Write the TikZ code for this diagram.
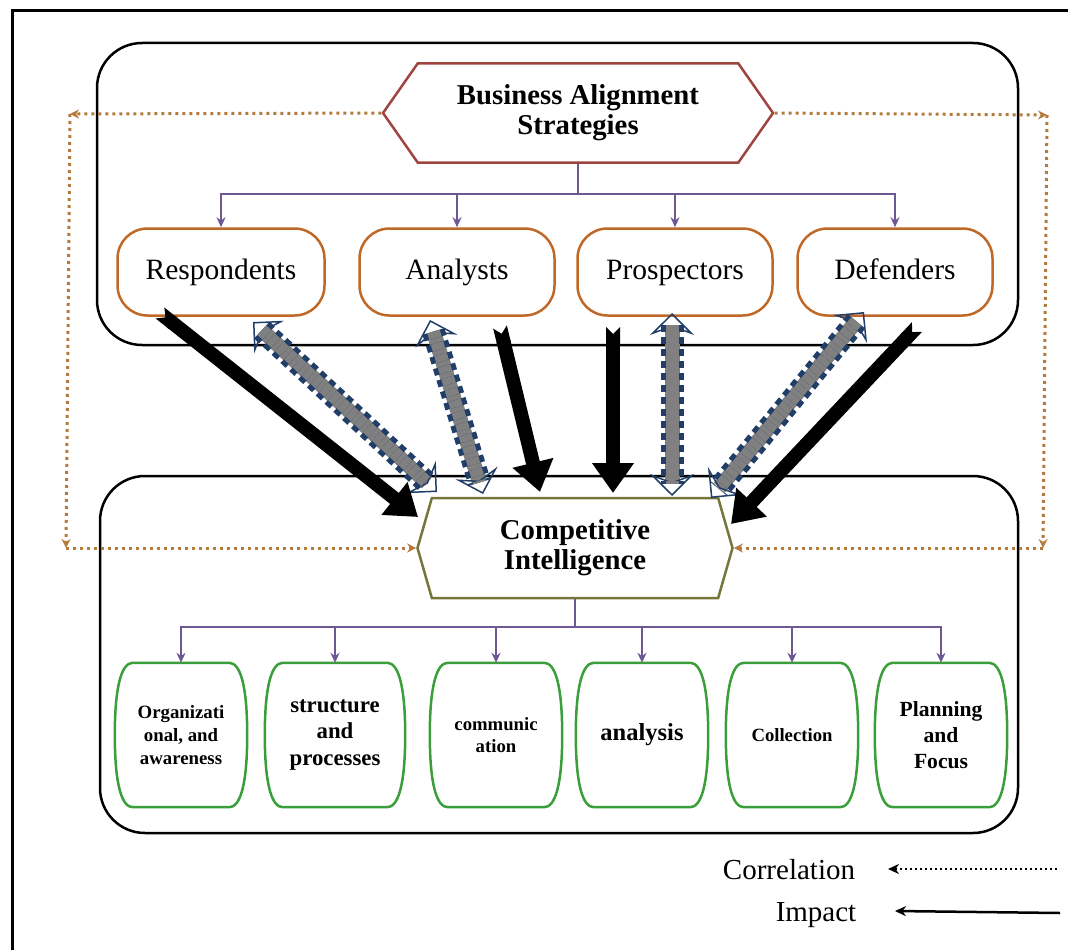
\documentclass[tikz,border=0pt]{standalone}
\usepackage{fontspec}
\setmainfont{Liberation Serif}
\usetikzlibrary{arrows.meta}
\usetikzlibrary{shapes.symbols}
\usetikzlibrary{calc}

\definecolor{basred}{RGB}{160,68,64}
\definecolor{stratorange}{RGB}{192,104,40}
\definecolor{linkpurple}{RGB}{110,88,148}
\definecolor{ciolive}{RGB}{118,118,60}
\definecolor{elemgreen}{RGB}{58,158,58}
\definecolor{corrbrown}{RGB}{180,122,62}
\definecolor{dashblue}{RGB}{32,62,104}

\begin{document}
\begin{tikzpicture}[x=1pt,y=-1pt,
		hexnode/.style={signal, signal to=west and east, draw, line width=2.5pt, align=center,
			inner sep=0pt, font=\fontsize{28.75}{30}\selectfont\bfseries},
		stratnode/.style={rectangle, rounded corners=30pt, draw=stratorange, line width=2.5pt,
			minimum width=195pt, minimum height=87pt, text height=20pt, text depth=6pt,
			font=\fontsize{29.5}{32}\selectfont},
		elemnode/.style={rectangle, minimum width=132pt, minimum height=144pt, align=center, inner sep=0pt},
		barrel/.style={draw=elemgreen, line width=2.5pt},
		container/.style={draw, line width=2.5pt, rounded corners=45pt},
		link/.style={draw=linkpurple, line width=1.8pt, -{Stealth[length=10pt,width=9pt]}},
		impact/.style={line width=14pt, {Triangle Cap[reversed]}-{Triangle[length=30pt,width=40pt]}},
		corrband/.style={line width=15pt, draw=gray,
			{Stealth[open,color=dashblue,line width=1.5pt,length=22pt,width=44pt,inset=8pt]}-{Stealth[open,color=dashblue,line width=1.5pt,length=22pt,width=44pt,inset=8pt]}},
		corredge/.style={draw=dashblue, line width=5pt, double=gray, double distance=13pt,
			dash pattern=on 7pt off 5pt, shorten <=12pt, shorten >=12pt},
		corr/.style={draw=corrbrown, line width=3pt, dash pattern=on 3pt off 4pt, -{Stealth[length=9pt,width=9pt]}},
		]
	\useasboundingbox (0,0) rectangle (1068,950);

	% Frame and containers
	\draw[line width=3pt] (12,950) -- (12,11) -- (1068,11);
	\draw[container] (97,43) rectangle (1018,345);
	\draw[container] (100,476) rectangle (1018,833);

	% Nodes
	\node[hexnode, draw=basred, signal pointer angle=110, minimum width=390pt, minimum height=99pt]
		(bas) at (578,113) {Business Alignment\\Strategies};
	\node[hexnode, draw=ciolive, signal pointer angle=148, minimum width=315pt, minimum height=100pt]
		(ci) at (575,548) {Competitive\\Intelligence};

	\node[stratnode, minimum width=207pt] (resp) at (221,272) {Respondents};
	\node[stratnode] (anal) at (457,272) {Analysts};
	\node[stratnode] (pros) at (675,272) {Prospectors};
	\node[stratnode] (defe) at (895,272) {Defenders};

	\node[elemnode, font=\fontsize{18.8}{23}\selectfont\bfseries] (org) at (181,735) {Organizati\\onal, and\\awareness};
	\node[elemnode, minimum width=140pt, font=\fontsize{22.8}{26}\selectfont\bfseries] (str) at (335,735) {structure\\and\\processes};
	\node[elemnode, font=\fontsize{18.7}{22}\selectfont\bfseries] (com) at (496,735) {communic\\ation};
	\node[elemnode, font=\fontsize{24.5}{26}\selectfont\bfseries] (ana) at (642,735) {analysis};
	\node[elemnode, font=\fontsize{18.7}{22}\selectfont\bfseries] (col) at (792,735) {Collection};
	\node[elemnode, font=\fontsize{21.6}{26}\selectfont\bfseries] (pla) at (941,735) {Planning\\and\\Focus};

	% Barrels
	\foreach \n in {org,str,com,ana,col,pla}
		\draw[barrel] ($(\n.north west)+(18,0)$) -- ($(\n.north east)+(-18,0)$)
			.. controls ($(\n.north east)+(-7,0)$) and ($(\n.east)+(0,-50)$) .. (\n.east)
			.. controls ($(\n.east)+(0,50)$) and ($(\n.south east)+(-7,0)$) .. ($(\n.south east)+(-18,0)$)
			-- ($(\n.south west)+(18,0)$)
			.. controls ($(\n.south west)+(7,0)$) and ($(\n.west)+(0,50)$) .. (\n.west)
			.. controls ($(\n.west)+(0,-50)$) and ($(\n.north west)+(7,0)$) .. cycle;

	% Tree links
	\foreach \n in {resp,anal,pros,defe}
		\draw[link] (bas.south) -- ++(0,30) -| (\n.north);
	\foreach \n in {org,str,com,ana,col,pla}
		\draw[link] (ci.south) -- ++(0,28) -| (\n.north);

	% Correlation loops
	\coordinate (cl1) at (70,114);
	\coordinate (cl2) at (66,548);
	\coordinate (cr1) at (1047,115);
	\coordinate (cr2) at (1043,548);
	\draw[corr] (bas.west) -- (cl1);
	\draw[corr] (cl1) -- (cl2);
	\draw[corr] (cl2) -- (ci.west);
	\draw[corr] (bas.east) -- (cr1);
	\draw[corr] (cr1) -- (cr2);
	\draw[corr] (cr2) -- (ci.east);

	% Correlation arrows
	\coordinate (g1s) at (253,322);
	\coordinate (g1e) at (437,492);
	\coordinate (g2s) at (430,320);
	\coordinate (g2e) at (483,494);
	\coordinate (g3s) at (672,313);
	\coordinate (g3e) at (672,496);
	\coordinate (g4s) at (864,312);
	\coordinate (g4e) at (711,498);
	\foreach \a/\b in {g1s/g1e,g2s/g2e,g3s/g3e,g4s/g4e}{
		\draw[corrband] (\a) -- (\b);
		\draw[corredge] (\a) -- (\b);
	}

	% Impact arrows
	\coordinate (i1s) at (160,313);
	\coordinate (i1e) at (418,517);
	\coordinate (i2s) at (500,327);
	\coordinate (i2e) at (540,492);
	\coordinate (i3s) at (613,327);
	\coordinate (i3e) at (613,493);
	\coordinate (i4s) at (917,327);
	\coordinate (i4e) at (731,524);
	\foreach \a/\b in {i1s/i1e,i2s/i2e,i3s/i3e,i4s/i4e}
		\draw[impact] (\a) -- (\b);

	% Legend
	\node[font=\fontsize{29}{30}\selectfont] (corrlbl) at (789,870) {Correlation};
	\node[font=\fontsize{29}{30}\selectfont] (implbl) at (816,915) {Impact};
	\coordinate (lc1) at (1057,869);
	\coordinate (lc2) at (888,869);
	\coordinate (li1) at (1060,913);
	\coordinate (li2) at (895,911);
	\draw[line width=2.5pt, dash pattern=on 2.5pt off 2.5pt, -{Stealth[length=11pt,width=10pt]}] (lc1) -- (lc2);
	\draw[line width=2.5pt, -{Stealth[length=11pt,width=10pt]}] (li1) -- (li2);
\end{tikzpicture}
\end{document}
